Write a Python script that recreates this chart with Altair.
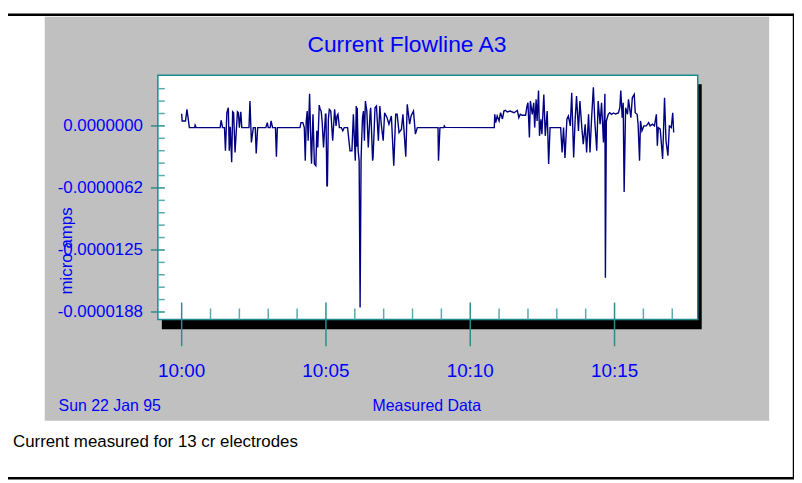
import altair as alt
import pandas as pd
import numpy as np

# ---------------- texts ----------------
title_text = "Current Flowline A3"
y_title = "micro amps"
x_title = "Measured Data"
date_text = "Sun 22 Jan 95"
caption_text = "Current measured for 13 cr electrodes"

# ---------------- data ----------------
# time: seconds after 10:00:00 on 22 Jan 1995 ; current in units of 1e-6 A
secs_a = [0, 1, 8, 11, 16, 27, 28, 30, 80, 82, 85, 89, 91, 94, 97, 99, 101, 104, 106, 108,
          111, 114, 116, 118, 120, 123, 125, 140, 142, 145, 149, 153, 155, 158, 175, 178, 180,
          184, 186, 189, 195, 197, 199]
vals_a = [1.23, 0.5, 0.5, 1.67, -0.17, -0.17, 0.07, -0.17, -0.17, 0.57, -0.17, -0.17, -2.5, 1.33,
          1.83, -2.5, -0.1, -3.67, 1.43, 1.33, -2.67, -0.17, 1.43, 1.33, -0.17, 1.43, -0.17, -0.17,
          2.5, -1.67, -0.17, -0.17, -2.77, -0.17, -0.17, 0.33, -0.17, -0.17, 0.5, -0.17, -0.17,
          -3.1, -0.17]

secs_b = [246, 248, 252, 255, 257, 259, 261, 263, 266, 269, 270, 273, 276, 279, 281, 283, 286,
          288, 290, 292, 295, 299, 300, 302, 303, 305, 307, 310, 314, 318, 321, 323, 325, 328,
          332, 335, 338, 345, 350, 354, 357, 361, 363, 364, 365, 367, 369, 371, 373, 374, 376,
          378, 380, 382, 385, 388, 392, 393, 397, 398, 402, 405, 409, 412, 415, 419, 422, 427,
          431, 436, 441, 445, 448, 452, 457, 460, 466, 469, 474, 477, 482, 486, 490]
vals_b = [-0.17, 0.33, 0.33, -0.17, -3.5, 0.5, 1.5, -1.5, 3.23, -2.5, -3.8, 1.17, -3.83, -4.0,
          -0.5, -2.17, 2.1, 1.67, 1.5, 0.5, -2.17, 1.17, 1.17, -6.1, -6.0, 0.67, 1.67, 1.5, -1.5,
          1.67, 0.0, 1.0, 1.17, -0.17, -0.17, -0.5, -0.17, -0.17, -2.5, -2.5, 1.17, -3.5, 2.0,
          -2.1, 1.83, -2.5, -3.5, -18.3, -3.5, -1.8, 0.83, 1.5, -1.5, 2.5, 1.5, -2.17, 1.5, 1.83,
          -3.5, -3.17, 1.83, 2.0, -1.5, 2.0, 0.17, -1.5, 1.33, 0.83, 0.17, 1.0, -4.0, 1.17, 1.17,
          -0.67, -0.33, 1.17, -3.1, 2.17, 0.17, 1.0, 1.5, -0.83, -0.17]

secs_c = [533, 534, 537, 545, 546, 548]
vals_c = [-0.17, -3.5, -0.17, -0.17, 0.0, -0.15]

secs_d = [650, 651, 653, 656, 660, 663, 667, 670, 673, 677, 683, 691, 694, 698, 701, 704, 708,
          715, 718, 720, 723, 725, 729, 732, 734, 737, 739, 742, 744, 747, 749, 753, 756, 760,
          763, 766, 788, 791, 794, 797, 801, 804, 808, 811, 815, 818, 821, 825, 828, 832, 835,
          839, 842, 846, 849, 852, 856, 859, 863, 866, 870, 873, 877, 880, 881, 883, 887, 890,
          894, 898, 902, 908, 911, 913, 916, 918, 920, 923, 927, 929, 934, 937, 941, 943, 947,
          949, 952, 954, 957, 961, 966, 971, 974, 979, 983, 987, 989, 991, 995, 1000, 1004, 1007,
          1011, 1014, 1018, 1021, 1023]
vals_d = [-0.17, 1.17, 0.33, 1.0, 0.5, 1.33, 0.7, 1.5, 1.57, 1.4, 1.5, 1.33, 1.43, 1.57, 0.83,
          1.17, 1.07, 1.07, 2.0, 2.33, -1.17, 2.5, 1.17, 2.33, -0.17, 2.67, 0.5, 3.57, -1.0, 0.67,
          -0.83, 3.17, -1.0, 1.5, -3.83, -0.17, -0.17, -2.67, -0.17, -3.23, 0.67, 1.0, 0.0, 3.33,
          -3.17, 0.5, 3.0, -0.5, 2.5, -0.17, -1.83, 0.17, -2.67, 1.17, -2.67, 0.5, 3.9, 0.5, -2.5,
          2.5, 0.17, 2.33, -1.67, 3.23, -15.3, 0.5, 1.17, 1.33, 1.17, 1.3, 1.2, 1.3, 1.83, 3.57,
          0.83, 2.33, -6.67, 1.83, 1.17, 2.67, 0.83, 2.83, 3.17, 1.33, 1.17, 0.17, -3.5, 0.5, -0.5,
          0.0, 0.0, 0.33, 0.0, 0.17, 0.0, 1.17, -2.0, -0.17, -0.33, -3.33, 2.83, -1.5, -3.0, 0.0,
          -0.17, 1.33, -0.67]

# axis tick values and labels
major_minutes = [0, 5, 10, 15]
major_minute_labels = ["10:00", "10:05", "10:10", "10:15"]
minor_minutes = [1, 2, 3, 4, 6, 7, 8, 9, 11, 12, 13, 14, 16, 17]
y_major = [0.0, -6.25, -12.5, -18.75]          # 1e-6 A
y_major_labels = ["0.0000000", "-0.0000062", "-0.0000125", "-0.0000188"]
y_minor = [3.75, 2.5, 1.25, -1.25, -2.5, -3.75, -5.0, -7.5, -8.75, -10.0, -11.25,
           -13.75, -15.0, -16.25, -17.5]

# ---------------- frames ----------------
base = pd.Timestamp("1995-01-22 10:00:00")
secs = secs_a + secs_b + secs_c + secs_d
vals = vals_a + vals_b + vals_c + vals_d
assert len(secs) == len(vals)
df = pd.DataFrame({"time": base + pd.to_timedelta(secs, unit="s"),
                   "current": np.array(vals) * 1e-6})
df_xmaj = pd.DataFrame({"time": base + pd.to_timedelta(major_minutes, unit="m"),
                        "lab": major_minute_labels})
df_xmin = pd.DataFrame({"time": base + pd.to_timedelta(minor_minutes, unit="m")})
df_ymaj = pd.DataFrame({"v": np.array(y_major) * 1e-6, "lab": y_major_labels})
df_ymin = pd.DataFrame({"v": np.array(y_minor) * 1e-6})

FONT = "Liberation Sans Narrow, Liberation Sans, Arial, sans-serif"
BLUE = "#0000ff"
TEAL = "#2a8c8c"
TEAL_L = "#5aabab"

W, H = 544, 246
xs = alt.Scale(domain=[alt.DateTime(year=1995, month=1, date=22, hours=9, minutes=59, seconds=10, milliseconds=500),
                       alt.DateTime(year=1995, month=1, date=22, hours=10, minutes=17, seconds=53)],
               nice=False)
ys = alt.Scale(domain=[-1.95e-5, 5.1e-6], nice=False, zero=False)

one = alt.Data(values=[{"k": 1}])


def box(x1, x2, y1, y2, **kw):
    return alt.Chart(one).mark_rect(**kw).encode(
        x=alt.value(x1), x2=alt.value(x2), y=alt.value(y1), y2=alt.value(y2))


def label(txt, x, y, **kw):
    return alt.Chart(pd.DataFrame({"t": [txt]})).mark_text(**kw).encode(
        text="t:N", x=alt.value(x), y=alt.value(y))


frame = box(-153, 641, -61, 406, fill="white", stroke="black", strokeWidth=2.5)
panel = box(-114, 616, -59, 348, fill="#c0c0c0")
shadow = box(4, 548, 9, 256, fill="black")
plotbg = box(0, W, 0, H, fill="white", stroke="#1f8a8a", strokeWidth=1.5)

line = alt.Chart(df).mark_line(color="#000080", strokeWidth=1.4).encode(
    x=alt.X("time:T", scale=xs, axis=None),
    y=alt.Y("current:Q", scale=ys, axis=None))

xmin_t = alt.Chart(df_xmin).mark_rule(color=TEAL_L, strokeWidth=1.5).encode(
    x=alt.X("time:T", scale=xs, axis=None), y=alt.value(H - 11), y2=alt.value(H))
xmaj_t = alt.Chart(df_xmaj).mark_rule(color=TEAL, strokeWidth=1.5).encode(
    x=alt.X("time:T", scale=xs, axis=None), y=alt.value(H - 17), y2=alt.value(H + 27))
ymin_t = alt.Chart(df_ymin).mark_rule(color=TEAL_L, strokeWidth=1.5).encode(
    y=alt.Y("v:Q", scale=ys, axis=None), x=alt.value(0), x2=alt.value(7))
ymaj_t = alt.Chart(df_ymaj).mark_rule(color=TEAL, strokeWidth=1.5).encode(
    y=alt.Y("v:Q", scale=ys, axis=None), x=alt.value(-7), x2=alt.value(7))

xlab = alt.Chart(df_xmaj).mark_text(font=FONT, fontSize=19, color=BLUE, align="center",
                                    baseline="middle").encode(
    x=alt.X("time:T", scale=xs, axis=None), y=alt.value(H + 52), text="lab:N")
ylab = alt.Chart(df_ymaj).mark_text(font=FONT, fontSize=17, color=BLUE, align="right",
                                    baseline="middle").encode(
    y=alt.Y("v:Q", scale=ys, axis=None), x=alt.value(-15), text="lab:N")

t_title = label(title_text, 251, -30, font=FONT, fontSize=23, color=BLUE, align="center", baseline="middle")
t_ytitle = label(y_title, -92, 177, font=FONT, fontSize=17, color=BLUE, align="center",
                 baseline="middle", angle=270)
t_date = label(date_text, -100, 333, font=FONT, fontSize=16, color=BLUE, align="left", baseline="middle")
t_xtitle = label(x_title, 271, 333, font=FONT, fontSize=16, color=BLUE, align="center", baseline="middle")
t_caption = label(caption_text, -146, 370, font="Liberation Sans, Arial, sans-serif", fontSize=17,
                  color="black", align="left", baseline="middle")

chart = alt.layer(frame, panel, shadow, plotbg, line, xmin_t, xmaj_t, ymin_t, ymaj_t,
                  xlab, ylab, t_title, t_ytitle, t_date, t_xtitle, t_caption).properties(
    width=W, height=H,
    autosize=alt.AutoSizeParams(type="none"),
    padding={"left": 151, "top": 66, "right": 97, "bottom": 161},
    background="white",
).configure_view(strokeWidth=0, fill=None)

chart.save("out.html", embed_options={"renderer": "svg", "actions": False})
